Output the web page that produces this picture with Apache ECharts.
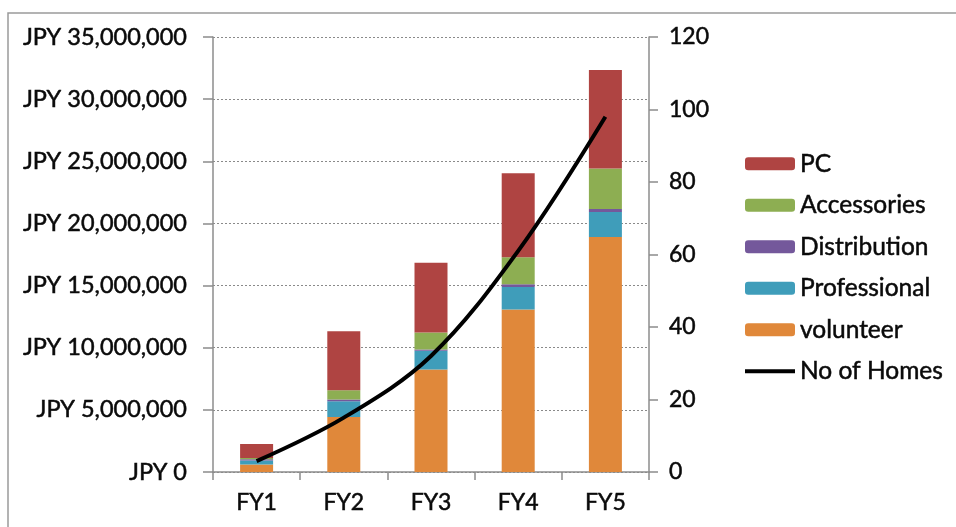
<!DOCTYPE html>
<html>
<head>
<meta charset="utf-8">
<script src="https://cdn.jsdelivr.net/npm/echarts@6/dist/echarts.min.js"></script>
<style>
  html, body { margin: 0; padding: 0; background: #fff; }
  #chart { width: 956px; height: 527px; }
</style>
</head>
<body>
<div id="chart"></div>
<script>
// Yearly cost breakdown (JPY) and number of homes served
const categories = ['FY1', 'FY2', 'FY3', 'FY4', 'FY5'];
const volunteer    = [600000, 4430000, 8250000, 13080000, 18910000];
const professional = [330000, 1260000, 1500000, 1800000, 2010000];
const distribution = [100000, 140000, 110000, 220000, 240000];
const accessories  = [100000, 750000, 1370000, 2170000, 3260000];
const pc           = [1120000, 4750000, 5610000, 6770000, 7920000];
const homes        = [3, 15, 32, 61, 98];

const costMax = 35000000, costStep = 5000000;
const homesMax = 120, homesStep = 20;

const FONT = 'Lato';
const TEXT = '#0a0a0a';
// slightly heavier glyphs than the regular cut
const ink = { color: TEXT, textBorderColor: TEXT, textBorderWidth: 0.5 };

const colors = {
  pc: '#AF4442',
  accessories: '#8DAE52',
  distribution: '#74589B',
  professional: '#3F9DBA',
  volunteer: '#E0883A'
};

// legend key for the line: a thin bar centred in the 50x13 key box
const LINE_KEY = 'path://M0,0L0,0M0,4.6L50,4.6L50,8.4L0,8.4ZM50,13L50,13';

function jpy(v) {
  return 'JPY ' + Math.round(v).toLocaleString('en-US');
}

function barSeries(name, data, color) {
  return {
    name: name, type: 'bar', stack: 'cost', data: data,
    barWidth: 33,
    itemStyle: { color: color },
    emphasis: { disabled: true }
  };
}

const chart = echarts.init(document.getElementById('chart'), null, { renderer: 'canvas' });

chart.setOption({
  animation: false,
  backgroundColor: '#fff',
  graphic: [{
    type: 'rect',
    shape: { x: 8, y: 13, width: 1200, height: 800 },
    style: { fill: 'none', stroke: '#9a9a9a', lineWidth: 1.5 },
    z: -1
  }],
  grid: { left: 213, right: 307, top: 37, bottom: 55 },
  legend: {
    orient: 'vertical',
    left: 745, top: 151,
    padding: 0,
    itemWidth: 50, itemHeight: 13,
    itemGap: 16,
    textStyle: Object.assign({ fontFamily: FONT, fontSize: 24.5, lineHeight: 23 }, ink),
    data: [
      { name: 'PC' },
      { name: 'Accessories' },
      { name: 'Distribution' },
      { name: 'Professional' },
      { name: 'volunteer' },
      { name: 'No of Homes', icon: LINE_KEY, itemStyle: { color: '#000' } }
    ]
  },
  xAxis: {
    type: 'category',
    data: categories,
    axisLine: { lineStyle: { color: '#8c8c8c', width: 1.5 } },
    axisTick: { show: true, length: 8, lineStyle: { color: '#8c8c8c', width: 1.5 } },
    axisLabel: Object.assign({ fontFamily: FONT, fontSize: 23, margin: 19 }, ink)
  },
  yAxis: [{
    type: 'value',
    min: 0, max: costMax, interval: costStep,
    axisLine: { show: true, lineStyle: { color: '#8c8c8c', width: 1.5 } },
    axisTick: { show: true, length: 10, lineStyle: { color: '#8c8c8c', width: 1.5 } },
    axisLabel: Object.assign({ fontFamily: FONT, fontSize: 23.5, margin: 26, formatter: jpy }, ink),
    splitLine: { show: true, lineStyle: { color: '#8a8a8a', type: [2, 2], width: 1 } }
  }, {
    type: 'value',
    min: 0, max: homesMax, interval: homesStep,
    position: 'right',
    axisLine: { show: true, lineStyle: { color: '#8c8c8c', width: 1.5 } },
    axisTick: { show: true, length: 9, lineStyle: { color: '#8c8c8c', width: 1.5 } },
    axisLabel: Object.assign({ fontFamily: FONT, fontSize: 23, margin: 20 }, ink),
    splitLine: { show: false }
  }],
  series: [
    barSeries('volunteer', volunteer, colors.volunteer),
    barSeries('Professional', professional, colors.professional),
    barSeries('Distribution', distribution, colors.distribution),
    barSeries('Accessories', accessories, colors.accessories),
    barSeries('PC', pc, colors.pc),
    {
      name: 'No of Homes', type: 'line', yAxisIndex: 1, data: homes,
      smooth: 0.35, symbol: 'none',
      lineStyle: { color: '#000', width: 4 },
      itemStyle: { color: '#000' },
      z: 5
    }
  ]
});
</script>
</body>
</html>
